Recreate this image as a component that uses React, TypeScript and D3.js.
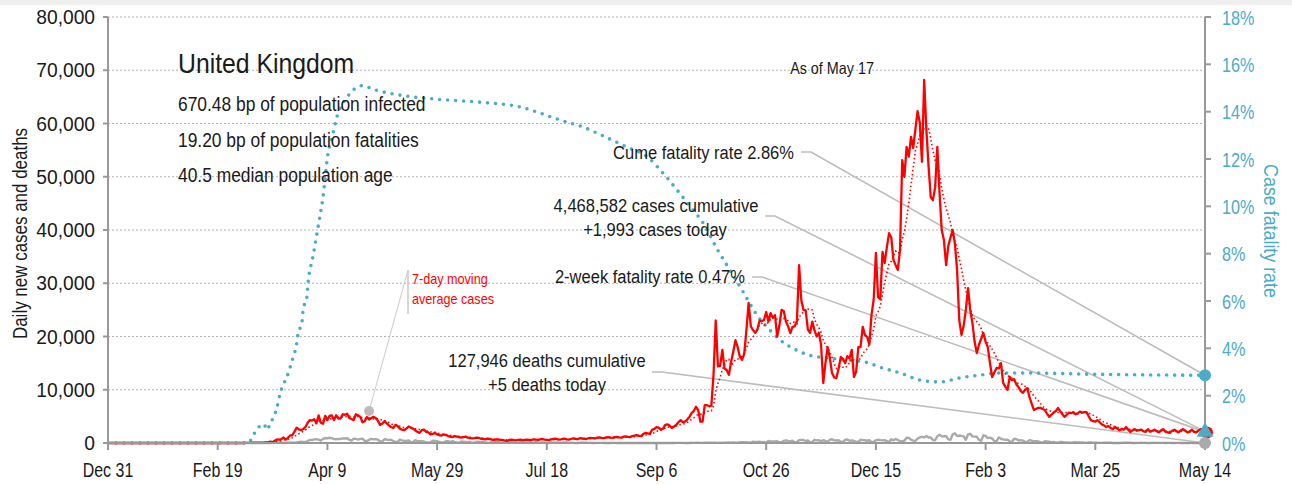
import React from 'react';
import * as d3 from 'd3';

const W = 1292;
const H = 484;
const FONT = "'Liberation Sans', Arial, sans-serif";

const startDate = new Date(2019, 11, 31);
const dayDate = (i: number) => d3.timeDay.offset(startDate, i);

// Daily new cases, Dec 31 2019 .. Feb 29 2020 (days 0-60)
const casesJanFeb = [
  0, 0, 0, 0, 0, 0, 0, 0, 0, 0, 0, 0, 0, 0, 0, 0, 0, 0, 0, 0,
  0, 0, 0, 0, 0, 0, 0, 0, 0, 0, 0, 2, 0, 0, 0, 0, 0, 1, 0, 0,
  0, 4, 1, 0, 0, 0, 0, 0, 0, 0, 0, 0, 0, 0, 0, 0, 0, 0, 4, 3, 3,
];
// Daily new cases, Mar 1 2020 .. May 14 2021 (days 61-500)
const casesDaily = [
  12, 4, 11, 34, 29, 48, 43, 67, 48, 46,
  83, 134, 117, 251, 152, 407, 676, 643, 714, 1035,
  665, 967, 1427, 1452, 2129, 2885, 2546, 2433, 2619, 3009,
  3800, 4300, 4200, 4450, 3700, 5200, 3800, 3600, 5100, 4300,
  5100, 5200, 4300, 5200, 4600, 4600, 5400, 5300, 5500, 4700,
  4500, 4300, 5400, 5200, 4900, 3900, 4100, 4900, 4400, 4700,
  4900, 4700, 4200, 3400, 3600, 4100, 3700, 3300, 3000, 2800,
  3400, 3200, 2700, 2500, 2400, 2700, 3100, 2900, 2700, 2400,
  2100, 1900, 2400, 2500, 2100, 2000, 1600, 1700, 1900, 1600,
  1500, 1400, 1600, 1500, 1300, 1200, 1100, 1300, 1200, 1100,
  1000, 1100, 1200, 1000, 900, 850, 900, 1000, 950, 800,
  750, 700, 800, 750, 650, 600, 700, 650, 600, 550,
  450, 400, 600, 650, 550, 500, 600, 650, 550, 600,
  650, 600, 550, 700, 650, 600, 700, 750, 650, 600,
  550, 700, 750, 800, 700, 650, 750, 800, 700, 650,
  750, 850, 800, 700, 900, 850, 800, 750, 900, 950,
  900, 850, 1000, 1050, 950, 900, 1050, 1100, 1000, 950,
  1100, 1150, 1050, 1000, 1200, 1250, 1150, 1100, 1300, 1400,
  1500, 1350, 1300, 1700, 1900, 1800, 1700, 2500, 2600, 3000,
  2900, 2500, 2700, 3400, 3500, 3300, 2800, 3100, 3400, 3900,
  4300, 3900, 4000, 4400, 4900, 5600, 6000, 6800, 6200, 4000,
  4000, 7100, 7100, 6900, 7000, 12900, 23000, 14400, 14500, 17500,
  14000, 13700, 12800, 15200, 17200, 19300, 18000, 16200, 15600, 16800,
  21300, 26300, 21900, 21200, 20700, 21300, 23000, 22900, 23100, 24600,
  22800, 24400, 23500, 24000, 20000, 22000, 25000, 24800, 22800, 21900,
  20650, 21800, 21900, 22900, 33400, 26800, 25000, 24900, 21300, 20700,
  22800, 21200, 20000, 20700, 18500, 11260, 15000, 18000, 16000, 13150,
  12300, 12200, 14000, 16150, 15800, 15000, 16300, 15900, 17500, 12400,
  13400, 18000, 18000, 21800, 20300, 19900, 18500, 24000, 27000, 35700,
  27400, 27000, 35900, 33800, 36800, 39400, 38600, 34400, 33400, 32500,
  36300, 53100, 50000, 55600, 53800, 57500, 55400, 58900, 62300, 60200,
  52800, 68200, 58900, 52000, 46200, 45600, 48000, 55600, 47000, 40000,
  38100, 33400, 37000, 38600, 40000, 37500, 32500, 23100, 20300, 22000,
  25000, 29100, 25000, 22500, 19000, 16900, 18500, 19600, 20650, 19000,
  18000, 15000, 12400, 13300, 14100, 14000, 15000, 11300, 10600, 10000,
  12400, 11800, 12000, 11000, 10500, 9800, 9400, 10000, 10300, 8600,
  7400, 6200, 6400, 6600, 6600, 6400, 6200, 5500, 4900, 5300,
  5700, 6000, 6570, 6000, 5400, 4900, 5300, 5700, 5600, 5800,
  5400, 5600, 5900, 5700, 5800, 5800, 5000, 4300, 4100, 4000,
  4300, 3900, 3500, 3300, 3000, 3200, 2800, 2600, 3000, 2700,
  2400, 2600, 2500, 3000, 2500, 2100, 2400, 2600, 2300, 2400,
  2500, 2200, 2100, 2600, 2100, 2300, 2500, 2200, 2000, 2400,
  2600, 2100, 2000, 1900, 2300, 2500, 2200, 2000, 2400, 2600,
  2300, 2000, 2100, 2500, 2100, 2000, 2300, 2600, 2400, 1993,
];

// Daily deaths, days 0-60
const deathsJanFeb = [
  0, 0, 0, 0, 0, 0, 0, 0, 0, 0, 0, 0, 0, 0, 0, 0, 0, 0, 0, 0,
  0, 0, 0, 0, 0, 0, 0, 0, 0, 0, 0, 0, 0, 0, 0, 0, 0, 0, 0, 0,
  0, 0, 0, 0, 0, 0, 0, 0, 0, 0, 0, 0, 0, 0, 0, 0, 0, 0, 0, 0, 0,
];
// Daily deaths, days 61-500
const deathsDaily = [
  0, 0, 0, 0, 1, 1, 1, 0, 2, 1,
  2, 2, 1, 10, 14, 20, 16, 33, 40, 33,
  56, 48, 54, 87, 41, 115, 181, 260, 209, 180,
  381, 563, 569, 684, 708, 621, 439, 786, 938, 881,
  980, 917, 737, 717, 778, 761, 861, 847, 888, 596,
  449, 828, 763, 638, 768, 813, 413, 360, 586, 765,
  674, 739, 621, 315, 288, 693, 649, 539, 626, 346,
  268, 210, 627, 494, 428, 384, 468, 170, 160, 545,
  363, 338, 351, 282, 118, 121, 134, 412, 377, 324,
  215, 113, 111, 324, 359, 176, 357, 204, 77, 55,
  286, 245, 202, 151, 181, 36, 38, 233, 184, 135,
  173, 128, 43, 15, 280, 154, 149, 186, 36, 30,
  25, 154, 176, 137, 67, 22, 16, 155, 126, 85,
  48, 148, 21, 11, 138, 85, 66, 114, 40, 14,
  11, 110, 79, 39, 123, 14, 7, 119, 83, 38,
  53, 20, 8, 0, 67, 48, 55, 64, 29, 15,
  0, 12, 19, 16, 18, 12, 15, 3, 0, 14,
  18, 3, 5, 13, 7, 0, 4, 12, 16, 6,
  9, 12, 1, 0, 3, 10, 12, 2, 2, 3,
  2, 3, 8, 14, 6, 9, 0, 9, 20, 21,
  21, 27, 6, 18, 11, 37, 27, 40, 34, 17,
  13, 71, 66, 59, 76, 49, 33, 19, 76, 14,
  70, 77, 87, 65, 81, 65, 50, 143, 137, 138,
  150, 67, 80, 241, 191, 189, 224, 174, 151, 102,
  367, 310, 280, 274, 326, 162, 136, 397, 492, 378,
  355, 413, 156, 194, 532, 595, 563, 376, 462, 168,
  213, 598, 501, 511, 341, 511, 398, 206, 608, 696,
  498, 479, 504, 215, 205, 603, 648, 414, 504, 397,
  231, 189, 616, 533, 516, 424, 519, 144, 232, 506,
  612, 532, 489, 534, 326, 215, 691, 506, 744, 570,
  316, 357, 414, 981, 967, 613, 454, 407, 830, 1041,
  1162, 1041, 1325, 1035, 1036, 563, 529, 1243, 1564, 1248,
  1280, 1295, 671, 610, 1610, 1820, 1290, 1401, 1348, 1245,
  592, 1631, 1725, 1239, 1200, 1201, 587, 406, 1449, 1322,
  915, 1014, 828, 373, 333, 1052, 799, 678, 613, 621,
  258, 230, 799, 738, 454, 533, 445, 178, 215, 548,
  442, 323, 345, 290, 144, 104, 343, 315, 242, 158,
  181, 82, 65, 190, 175, 121, 101, 52, 64, 110,
  141, 95, 101, 96, 33, 31, 112, 98, 70, 63,
  70, 19, 23, 56, 45, 52, 51, 10, 9, 7,
  6, 23, 45, 37, 60, 52, 7, 13, 20, 30,
  34, 27, 33, 10, 4, 33, 22, 18, 17, 22,
  18, 12, 17, 29, 11, 13, 25, 26, 9, 5,
  1, 13, 12, 14, 9, 3, 4, 13, 9, 5,
];

// Cumulative case fatality rate (%), sampled at [day index] -> value
const cfrDays = [0, 64, 66, 69, 71, 72.5, 74, 75.5, 77, 78.5, 79.8, 81.6, 83, 84.3, 86, 86.6, 88.4, 88.9, 90.7, 91.2, 92, 93, 95.5, 98, 100.3, 102.1, 104.4, 108.9, 116.2, 120.8, 133.1, 146.8, 169.6, 187.8, 196.9, 206, 216.5, 227.4, 236.6, 245.7, 253, 259.3, 265.3, 271.2, 277.6, 283.5, 289.4, 295.8, 300.4, 306.3, 312.2, 320, 327.7, 336.8, 346, 351.9, 361, 370.1, 379.2, 388.3, 397.4, 406.6, 415.7, 452, 500];
const cfrValues = [0, 0, 0.3, 0.7, 0.8, 0.55, 0.85, 1.1, 1.5, 2.1, 2.45, 2.8, 3.2, 3.6, 4.2, 4.6, 5.1, 5.6, 6.2, 6.8, 7.3, 7.7, 9.0, 10.4, 12.25, 12.9, 13.8, 14.6, 15.1, 14.95, 14.7, 14.55, 14.4, 14.2, 13.94, 13.65, 13.35, 12.9, 12.5, 12.1, 11.4, 10.7, 10.0, 9.3, 8.2, 7.3, 6.4, 5.4, 4.9, 4.35, 4.0, 3.7, 3.6, 3.5, 3.4, 3.2, 2.96, 2.66, 2.58, 2.75, 2.87, 2.96, 2.96, 2.9, 2.86];

const leftTicks = [0, 10000, 20000, 30000, 40000, 50000, 60000, 70000, 80000];
const rightTicks = [0, 2, 4, 6, 8, 10, 12, 14, 16, 18];
const xTickDays = [0, 50, 100, 150, 200, 250, 300, 350, 400, 450, 500];

const title = 'United Kingdom';
const statLines = ['670.48 bp of population infected', '19.20 bp of population fatalities', '40.5 median population age'];
const asOfText = 'As of May 17';
const cumeFatalityRate = 2.86;
const twoWeekFatalityRate = 0.47;
const casesCumulative = '4,468,582';
const casesToday = 1993;
const deathsCumulative = '127,946';
const deathsToday = 5;
const avgLabelDay = 119;
const avgLabelValue = 6000;

const RED = '#ff0000';
const TEAL = '#4bacc6';
const GREY = '#aaaaaa';
const LEADER = '#bdbdbd';
const AXIS = '#999999';
const TEXT = '#1a1a1a';

type TProps = {
  x: number;
  y: number;
  size: number;
  sx?: number;
  rotate?: number;
  anchor?: 'start' | 'middle' | 'end';
  fill?: string;
  dy?: string;
  children: React.ReactNode;
};

function T({ x, y, size, sx = 0.87, rotate = 0, anchor = 'start', fill = TEXT, dy, children }: TProps) {
  return (
    <text
      transform={`translate(${x},${y}) rotate(${rotate}) scale(${sx},1)`}
      textAnchor={anchor}
      fontSize={size}
      fill={fill}
      dy={dy}
    >
      {children}
    </text>
  );
}

export default function App() {
  const cases = [...casesJanFeb, ...casesDaily];
  const deaths = [...deathsJanFeb, ...deathsDaily];
  const avg = cases.map((_, i) => d3.mean(cases.slice(Math.max(0, i - 6), i + 1)) as number);

  const lastDay = cases.length - 1;
  const x = d3.scaleTime().domain([dayDate(0), dayDate(500)]).range([108, 1205]);
  const yL = d3.scaleLinear().domain([0, 80000]).range([443, 17]);
  const yR = d3.scaleLinear().domain([0, 18]).range([443, 17]);

  const dailyLine = d3.line<number>().x((_, i) => x(dayDate(i))).y((d) => yL(d));
  const cfrLine = d3
    .line<number>()
    .x((_, i) => x(dayDate(0).getTime() + cfrDays[i] * 86400000))
    .y((d) => yR(d))
    .curve(d3.curveMonotoneX);

  const fmtDate = d3.timeFormat('%b %-d');
  const fmtNum = d3.format(',');

  const xEnd = x(dayDate(lastDay));
  const cfrEnd = { x: xEnd, y: yR(cumeFatalityRate) };
  const twoWeekEnd = { x: xEnd, y: yR(twoWeekFatalityRate) };
  const casesEnd = { x: xEnd + 2, y: yL(casesToday) };
  const deathsEnd = { x: xEnd, y: yL(deathsToday) };
  const avgDot = { x: x(dayDate(avgLabelDay)), y: yL(avgLabelValue) };

  const leader = (sx: number, sy: number, tx: number, ty: number) => `M${sx},${sy}L${sx + 10},${sy}L${tx},${ty}`;
  const tri = d3.symbol(d3.symbolTriangle, 120)() as string;

  return (
    <div style={{ position: 'absolute', left: 0, top: 0, width: W, height: H, background: '#fff' }}>
      <svg width={W} height={H} style={{ display: 'block', fontFamily: FONT }}>
        <rect x={0} y={0} width={W} height={5} fill="#efefef" />
        {/* gridlines */}
        {leftTicks.filter((t) => t > 0).map((t) => (
          <line key={t} x1={108} x2={1205} y1={yL(t)} y2={yL(t)} stroke="#b3b3b3" strokeWidth={1} strokeDasharray="2,2" />
        ))}

        {/* leader lines */}
        <path d={leader(801, 152, cfrEnd.x, cfrEnd.y)} fill="none" stroke={LEADER} strokeWidth={1.6} />
        <path d={leader(765, 216, casesEnd.x, casesEnd.y)} fill="none" stroke={LEADER} strokeWidth={1.6} />
        <path d={leader(752, 277, twoWeekEnd.x, twoWeekEnd.y)} fill="none" stroke={LEADER} strokeWidth={1.6} />
        <path d={leader(652, 372, deathsEnd.x, deathsEnd.y)} fill="none" stroke={LEADER} strokeWidth={1.6} />
        <path d={`M${avgDot.x},${avgDot.y}L408,270`} fill="none" stroke="#cccccc" strokeWidth={1} />
        <line x1={408} x2={408} y1={270} y2={314} stroke="#cccccc" strokeWidth={1.6} />

        {/* series */}
        <path d={dailyLine(deaths) as string} fill="none" stroke={GREY} strokeWidth={2.4} strokeLinejoin="round" />
        <path d={cfrLine(cfrValues) as string} fill="none" stroke={TEAL} strokeWidth={3.6} strokeDasharray="0,8" strokeLinecap="round" />
        <path d={dailyLine(avg) as string} fill="none" stroke={RED} strokeWidth={1.6} strokeDasharray="1.5,2.5" />
        <path d={dailyLine(cases) as string} fill="none" stroke={RED} strokeWidth={2.3} strokeLinejoin="round" />

        {/* axes */}
        <line x1={108} x2={108} y1={17} y2={443} stroke={AXIS} strokeWidth={2} />
        <line x1={1205} x2={1205} y1={17} y2={443} stroke={AXIS} strokeWidth={2} />
        <line x1={108} x2={1205} y1={443} y2={443} stroke={AXIS} strokeWidth={2} />
        {leftTicks.map((t) => (
          <g key={t}>
            <line x1={103} x2={108} y1={yL(t)} y2={yL(t)} stroke={AXIS} strokeWidth={2} />
            <T x={95} y={yL(t)} dy="0.36em" anchor="end" size={20} sx={0.96}>{fmtNum(t)}</T>
          </g>
        ))}
        {rightTicks.map((t) => (
          <g key={t}>
            <line x1={1205} x2={1211} y1={yR(t)} y2={yR(t)} stroke={AXIS} strokeWidth={2} />
            <T x={1222} y={yR(t)} dy="0.36em" size={21} sx={0.77} fill={TEAL}>{`${t}%`}</T>
          </g>
        ))}
        {xTickDays.map((d) => (
          <g key={d}>
            <line x1={x(dayDate(d))} x2={x(dayDate(d))} y1={443} y2={450} stroke={AXIS} strokeWidth={2} />
            <T x={x(dayDate(d))} y={477} anchor="middle" size={21} sx={0.76}>{fmtDate(dayDate(d))}</T>
          </g>
        ))}
        <T x={27} y={233.5} rotate={-90} anchor="middle" size={19.5}>Daily new cases and deaths</T>
        <T x={1264} y={231} rotate={90} anchor="middle" size={20.5} fill={TEAL}>Case fatality rate</T>

        {/* end markers */}
        <circle cx={casesEnd.x} cy={casesEnd.y} r={6} fill={RED} />
        <path d={tri} transform={`translate(${twoWeekEnd.x},${twoWeekEnd.y})`} fill={TEAL} />
        <circle cx={deathsEnd.x} cy={deathsEnd.y} r={6} fill={GREY} />
        <circle cx={cfrEnd.x} cy={cfrEnd.y} r={6} fill={TEAL} />
        <circle cx={avgDot.x} cy={avgDot.y} r={5} fill="#bbbbbb" />

        {/* header text */}
        <T x={178} y={73} size={28} sx={0.885}>{title}</T>
        {statLines.map((s, i) => (
          <T key={s} x={178} y={111 + i * 35.5} size={20}>{s}</T>
        ))}
        <T x={832} y={74} anchor="middle" size={16.5}>{asOfText}</T>

        {/* annotations */}
        <T x={794} y={159} anchor="end" size={19}>{`Cume fatality rate ${cumeFatalityRate.toFixed(2)}%`}</T>
        <T x={656} y={212} anchor="middle" size={19}>{`${casesCumulative} cases cumulative`}</T>
        <T x={655} y={236} anchor="middle" size={19}>{`+${fmtNum(casesToday)} cases today`}</T>
        <T x={745} y={283} anchor="end" size={19}>{`2-week fatality rate ${twoWeekFatalityRate.toFixed(2)}%`}</T>
        <T x={547} y={367} anchor="middle" size={19}>{`${deathsCumulative} deaths cumulative`}</T>
        <T x={547} y={391} anchor="middle" size={19}>{`+${deathsToday} deaths today`}</T>
        <T x={412} y={284} size={14.5} fill={RED}>7-day moving</T>
        <T x={412} y={304} size={14.5} fill={RED}>average cases</T>
      </svg>
    </div>
  );
}
